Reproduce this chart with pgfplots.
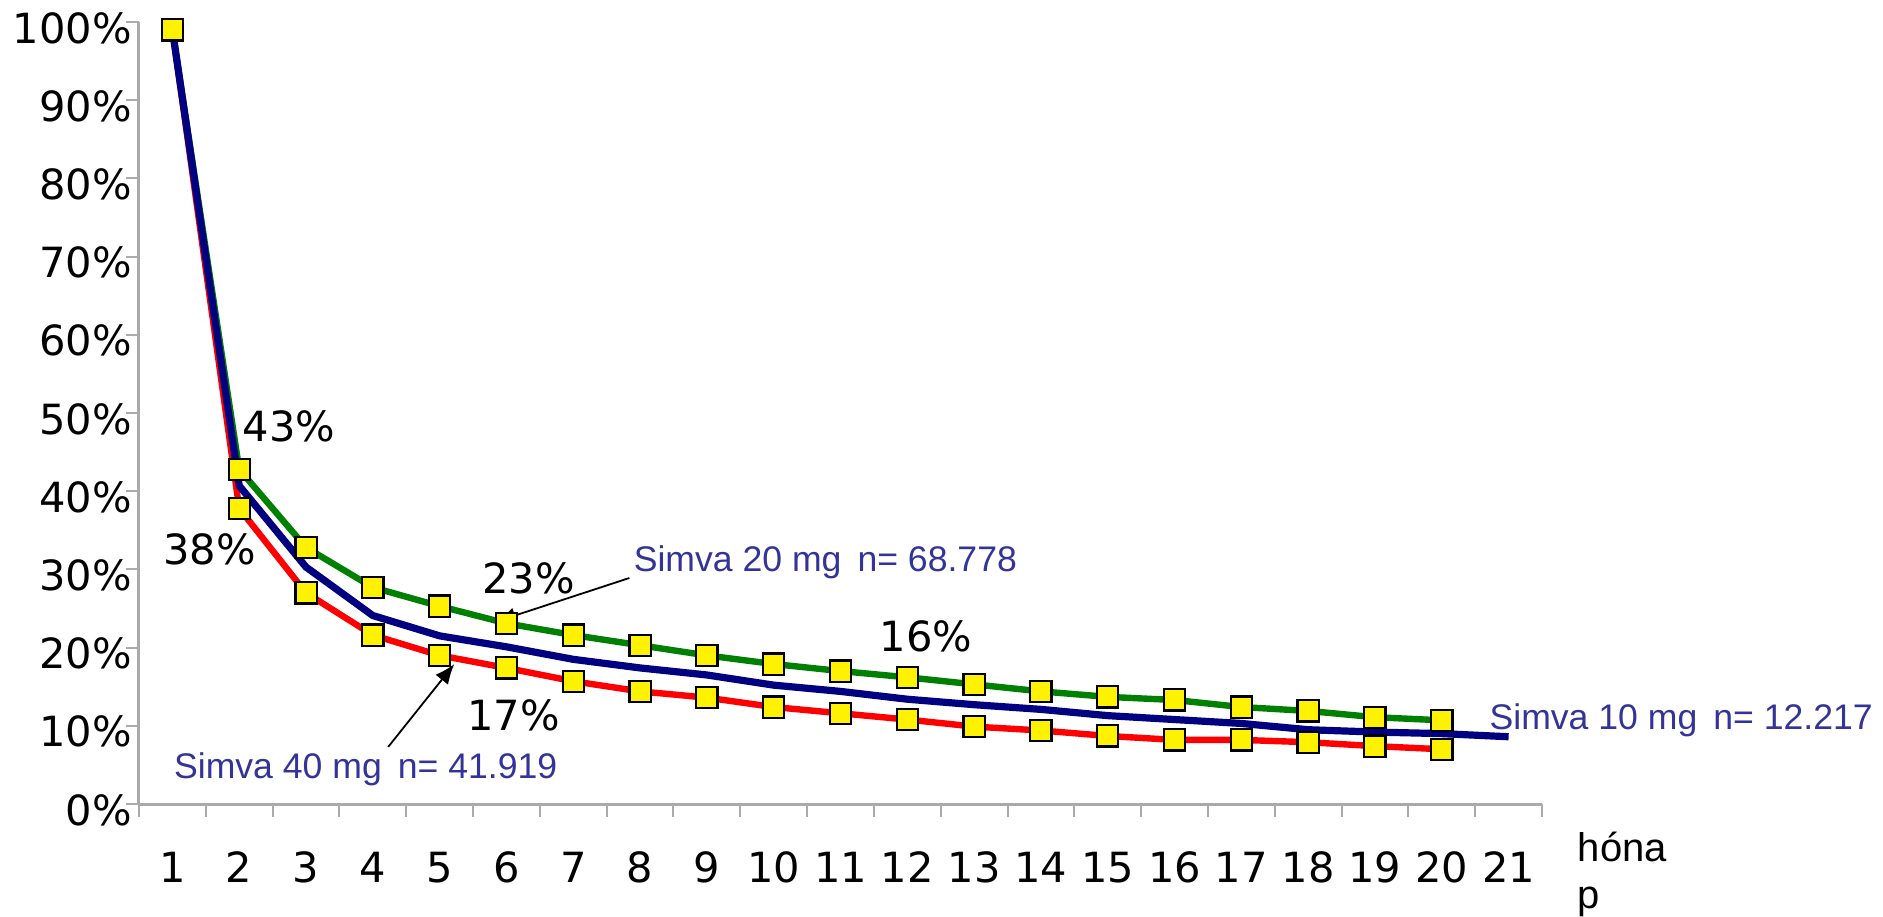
\documentclass[border=0pt]{standalone}
\usepackage{pgfplots}
\pgfplotsset{compat=1.18}
\usepackage{pgfplotstable}
\usetikzlibrary{arrows.meta}
\usepackage{fontspec}
\setmainfont{DejaVu Sans}
\newfontfamily\lib{Liberation Sans}
\definecolor{cgreen}{RGB}{0,128,0}
\definecolor{cred}{RGB}{255,0,0}
\definecolor{cblue}{RGB}{0,0,128}
\definecolor{ctext}{RGB}{51,51,153}
\definecolor{caxis}{RGB}{170,170,170}

\pgfplotstableread{
x g r
1 99.0 99.0
2 42.8 37.8
3 32.8 27.0
4 27.7 21.6
5 25.3 19.0
6 23.1 17.4
7 21.6 15.7
8 20.3 14.4
9 19.0 13.6
10 17.9 12.4
11 17.0 11.6
12 16.2 10.8
13 15.3 9.9
14 14.4 9.4
15 13.7 8.7
16 13.3 8.2
17 12.4 8.2
18 11.9 7.9
19 11.1 7.4
20 10.7 7.0
}\gr

\pgfplotstableread{
x b
1 99.0
2 40.7
3 30.3
4 24.1
5 21.5
6 20.1
7 18.5
8 17.4
9 16.5
10 15.2
11 14.4
12 13.4
13 12.7
14 12.1
15 11.3
16 10.8
17 10.3
18 9.5
19 9.2
20 9.0
21 8.6
}\bl

\begin{document}
\begin{tikzpicture}
\begin{axis}[
  scale only axis, width=701.5pt, height=391pt,
  xmin=0.5, xmax=21.5, ymin=0, ymax=100,
  axis x line*=bottom, axis y line*=left,
  axis line style={draw=caxis, line width=1.5pt},
  xtick={0.5,1.5,...,21.5},
  x tick label as interval,
  xticklabels={1,2,3,4,5,6,7,8,9,10,11,12,13,14,15,16,17,18,19,20,21},
  ytick={0,10,...,100},
  yticklabels={0\%,10\%,20\%,30\%,40\%,50\%,60\%,70\%,80\%,90\%,100\%},
  tick align=outside,
  major tick length=6.5pt,
  tick style={draw=caxis, line width=1pt},
  ticklabel style={font=\fontsize{20.8}{24}\selectfont, text=black},
  xticklabel style={yshift=-14pt},
  yticklabel style={inner xsep=0pt, xshift=3pt, yshift=-3pt},
  clip=false,
]
\addplot[cred, line width=3.2pt, line join=round] table[x=x, y=r] {\gr};
\addplot[cgreen, line width=3.2pt, line join=round] table[x=x, y=g] {\gr};
\addplot[cblue, line width=3.6pt, line join=round] table[x=x, y=b] {\bl};
\addplot[only marks, mark=square*, mark size=5.3pt, mark options={fill=yellow, draw=black, line width=1.1pt}] table[x=x, y=r] {\gr};
\addplot[only marks, mark=square*, mark size=5.3pt, mark options={fill=yellow, draw=black, line width=1.1pt}] table[x=x, y=g] {\gr};

\node[anchor=west, inner sep=0pt, font=\fontsize{20.8}{24}\selectfont] at (axis cs:2.05,48.3) {43\%};
\node[anchor=west, inner sep=0pt, font=\fontsize{20.8}{24}\selectfont] at (axis cs:0.86,32.5) {38\%};
\node[anchor=west, inner sep=0pt, font=\fontsize{20.8}{24}\selectfont] at (axis cs:5.63,28.8) {23\%};
\node[anchor=west, inner sep=0pt, font=\fontsize{20.8}{24}\selectfont] at (axis cs:5.41,11.3) {17\%};
\node[anchor=west, inner sep=0pt, font=\fontsize{20.8}{24}\selectfont] at (axis cs:11.58,21.5) {16\%};

\node[anchor=base west, inner sep=0pt, text=ctext, font=\lib\fontsize{17.8}{21}\selectfont] at (axis cs:7.90,29.7) {Simva 20 mg\hspace{0.45em}n= 68.778};
\node[anchor=base west, inner sep=0pt, text=ctext, font=\lib\fontsize{17.8}{21}\selectfont] at (axis cs:1.02,3.2) {Simva 40 mg\hspace{0.45em}n= 41.919};
\node[anchor=base west, inner sep=0pt, text=ctext, font=\lib\fontsize{17.8}{21}\selectfont] at (axis cs:20.71,9.5) {Simva 10 mg\hspace{0.45em}n= 12.217};

\draw[-{Latex[length=10pt,width=8pt]}, line width=0.9pt] (axis cs:7.84,28.9) -- (axis cs:5.84,23.3);
\draw[-{Latex[length=10pt,width=8pt]}, line width=0.9pt] (axis cs:4.23,7.3) -- (axis cs:5.22,17.9);

\node[anchor=base west, inner sep=0pt, font=\lib\fontsize{20}{24}\selectfont] at (axis cs:22.03,-7.3) {hóna};
\node[anchor=base west, inner sep=0pt, font=\lib\fontsize{20}{24}\selectfont] at (axis cs:22.03,-13.4) {p};
\end{axis}
\pgfresetboundingbox
\useasboundingbox ([shift={(-69.5pt,-56pt)}]current axis.south west) rectangle ([shift={(872pt,402pt)}]current axis.south west);
\end{tikzpicture}
\end{document}
